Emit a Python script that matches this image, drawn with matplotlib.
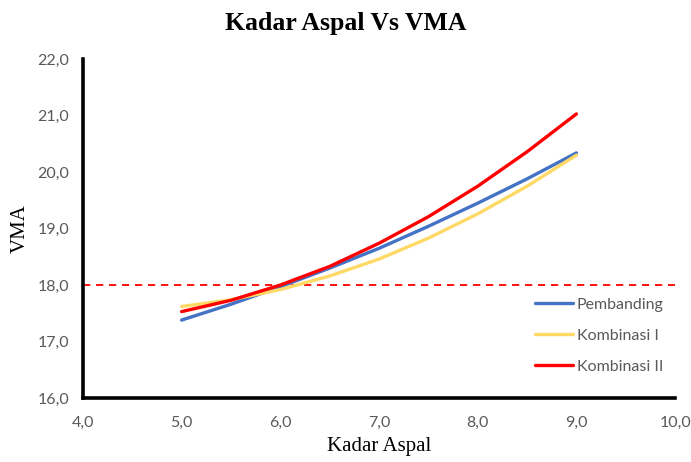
import matplotlib
matplotlib.use("Agg")
import matplotlib.pyplot as plt

# values
kadar_aspal = [5.0, 5.5, 6.0, 6.5, 7.0, 7.5, 8.0, 8.5, 9.0]
vma_pembanding = [17.38, 17.66, 17.97, 18.30, 18.65, 19.04, 19.45, 19.88, 20.34]
vma_kombinasi_1 = [17.62, 17.74, 17.92, 18.16, 18.46, 18.83, 19.26, 19.75, 20.30]
vma_kombinasi_2 = [17.53, 17.73, 18.00, 18.33, 18.74, 19.21, 19.75, 20.36, 21.03]
batas_vma = 18.0

x_ticks = [4, 5, 6, 7, 8, 9, 10]
y_ticks = [16, 17, 18, 19, 20, 21, 22]

series = [
    ("Pembanding", vma_pembanding, "#4472C4"),
    ("Kombinasi I", vma_kombinasi_1, "#FFD966"),
    ("Kombinasi II", vma_kombinasi_2, "#FF0000"),
]

tick_font = "Lato"
serif_font = "Liberation Serif"
gray = "#595959"

fig = plt.figure(figsize=(6.91, 4.62), dpi=100)
ax = fig.add_axes([0.120, 0.1385, 0.857, 0.7335])

ax.axhline(batas_vma, color="#FF0000", lw=1.3, ls=(0, (4, 3.2)), zorder=1)

for label, values, color in series:
    ax.plot(kadar_aspal, values, color=color, lw=2.4, label=label,
            solid_capstyle="round", solid_joinstyle="round", zorder=2)

ax.set_xlim(4, 10)
ax.set_ylim(16, 22)
ax.set_xticks(x_ticks)
ax.set_yticks(y_ticks)
ax.set_xticklabels([f"{v:.1f}".replace(".", ",") for v in x_ticks])
ax.set_yticklabels([f"{v:.1f}".replace(".", ",") for v in y_ticks])
ax.tick_params(length=0, labelsize=11.5, labelcolor=gray)
ax.tick_params(axis="x", pad=13)
ax.tick_params(axis="y", pad=10)
for lab in ax.get_xticklabels() + ax.get_yticklabels():
    lab.set_family(tick_font)

for side in ("top", "right"):
    ax.spines[side].set_visible(False)
for side in ("left", "bottom"):
    ax.spines[side].set_linewidth(2.6)
    ax.spines[side].set_color("black")

ax.set_xlabel("Kadar Aspal", family=serif_font, fontsize=15, labelpad=5)
ax.set_ylabel("VMA", family=serif_font, fontsize=15, labelpad=5)

fig.suptitle("Kadar Aspal Vs VMA", family=serif_font, fontweight="bold",
             fontsize=18.5, x=0.5, y=0.975)

leg = ax.legend(loc="upper left", bbox_to_anchor=(0.752, 0.315), frameon=False,
                handlelength=2.4, handletextpad=0.25, labelspacing=1.05,
                prop={"family": tick_font, "size": 11.5}, borderaxespad=0)
for text in leg.get_texts():
    text.set_color(gray)

fig.savefig("out.png", dpi=100)
plt.close(fig)
